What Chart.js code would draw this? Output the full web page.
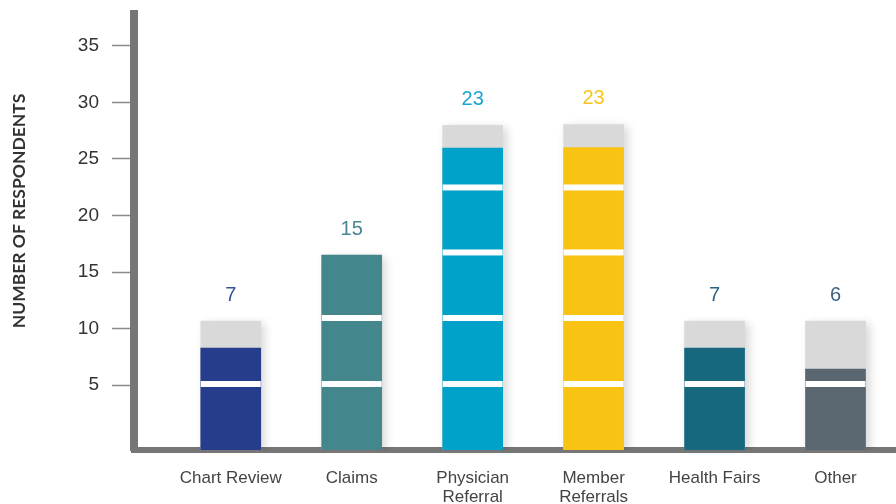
<!DOCTYPE html>
<html>
<head>
<meta charset="utf-8">
<script src="https://cdn.jsdelivr.net/npm/chart.js@4"></script>
<style>
  body { margin: 0; background: #fff; }
  canvas { display: block; }
</style>
</head>
<body>
<canvas id="chart" width="896" height="504"></canvas>
<script>
// datos de la figura
const categories = ['Chart Review', 'Claims', 'Physician Referral', 'Member Referrals', 'Health Fairs', 'Other'];
const xLabels = [['Chart Review'], ['Claims'], ['Physician', 'Referral'], ['Member', 'Referrals'], ['Health Fairs'], ['Other']];
const respondents = [7, 15, 23, 23, 7, 6];
const barHeights = [8.27, 16.5, 25.97, 26.0, 8.27, 6.42];
const capacity = [10.66, 16.5, 27.97, 28.05, 10.66, 10.66];
const gapLevels = [5.09, 10.93, 16.73, 22.48];
const yTicks = [5, 10, 15, 20, 25, 30, 35];

const Y_MIN = -0.75;
const Y_MAX = 37.83;

const barColors = ['#253d8b', '#43868c', '#00a2c9', '#f9c313', '#17677f', '#5a6771'];
const labelColors = ['#34529b', '#4a8593', '#1aa5d1', '#f8c420', '#2d6481', '#3d6482'];
const GREY = '#d9d9d9';
const AXIS = '#767676';

// sombra suave solo en la barra de fondo
const shadowPlugin = {
    id: 'shadow',
    beforeDatasetDraw(chart, args) {
        if (args.index !== 0) return;
        const ctx = chart.ctx;
        ctx.save();
        ctx.shadowColor = 'rgba(0,0,0,0.16)';
        ctx.shadowBlur = 9;
        ctx.shadowOffsetX = 4;
        ctx.shadowOffsetY = 2;
    },
    afterDatasetDraw(chart, args) {
        if (args.index !== 0) return;
        chart.ctx.restore();
    }
};

// cortes blancos y números sobre las barras
const overlayPlugin = {
    id: 'overlay',
    afterDatasetsDraw(chart) {
        const ctx = chart.ctx;
        const y = chart.scales.y;
        const back = chart.getDatasetMeta(0).data;
        ctx.save();
        back.forEach((bar, i) => {
            const half = bar.width / 2;
            gapLevels.forEach(level => {
                if (level >= capacity[i]) return;
                const py = y.getPixelForValue(level);
                ctx.fillStyle = '#fff';
                ctx.fillRect(bar.x - half, py - 3, bar.width, 6);
            });
            ctx.fillStyle = labelColors[i];
            ctx.font = '20px "Liberation Sans", Arial, sans-serif';
            ctx.textAlign = 'center';
            ctx.textBaseline = 'middle';
            ctx.fillText(String(respondents[i]), bar.x, y.getPixelForValue(capacity[i]) - 26);
        });
        // título del eje
        ctx.translate(19, 211);
        ctx.rotate(-Math.PI / 2);
        ctx.fillStyle = '#333';
        ctx.font = 'bold 17.5px Lato, "Open Sans", sans-serif';
        ctx.textAlign = 'center';
        ctx.textBaseline = 'middle';
        ctx.fillText('NUMBER OF RESPONDENTS', 0, 0);
        ctx.restore();
    }
};

new Chart(document.getElementById('chart'), {
    type: 'bar',
    data: {
        datasets: [
            {
                label: 'base',
                data: capacity.map((v, i) => ({ x: i, y: [Y_MIN, v] })),
                backgroundColor: GREY,
                order: 2,
                grouped: false,
                barThickness: 60
            },
            {
                label: 'respondents',
                data: barHeights.map((v, i) => ({ x: i, y: [Y_MIN, v] })),
                backgroundColor: barColors,
                order: 1,
                grouped: false,
                barThickness: 60
            }
        ]
    },
    options: {
        responsive: false,
        devicePixelRatio: 1,
        animation: false,
        layout: { padding: { top: 14, right: 0, left: 0, bottom: 0 } },
        plugins: {
            legend: { display: false },
            tooltip: { enabled: false }
        },
        scales: {
            x: {
                type: 'linear',
                offset: false,
                min: -0.8,
                max: 5.5,
                z: 1,
                afterBuildTicks: scale => { scale.ticks = categories.map((c, i) => ({ value: i })); },
                afterFit: scale => { scale.height = 54; scale.paddingLeft = 0; scale.paddingRight = 0; },
                grid: { display: false, drawTicks: false },
                border: { display: true, color: AXIS, width: 6 },
                ticks: {
                    autoSkip: false,
                    maxRotation: 0,
                    padding: 19,
                    color: '#444',
                    font: { family: '"Liberation Sans", Arial, sans-serif', size: 17, lineHeight: 1.12 },
                    callback: value => xLabels[value]
                }
            },
            y: {
                min: Y_MIN,
                max: Y_MAX,
                z: 1,
                afterBuildTicks: scale => { scale.ticks = yTicks.map(v => ({ value: v })); },
                afterFit: scale => { scale.width = 134; scale.paddingTop = 0; scale.paddingBottom = 0; },
                grid: {
                    drawOnChartArea: false,
                    drawTicks: true,
                    tickLength: 22,
                    tickColor: '#8a8a8a',
                    tickWidth: 1.5
                },
                border: { display: true, color: AXIS, width: 8 },
                ticks: {
                    padding: 13,
                    color: '#333',
                    font: { family: '"Liberation Sans", Arial, sans-serif', size: 19 }
                }
            }
        }
    },
    plugins: [shadowPlugin, overlayPlugin]
});
</script>
</body>
</html>
